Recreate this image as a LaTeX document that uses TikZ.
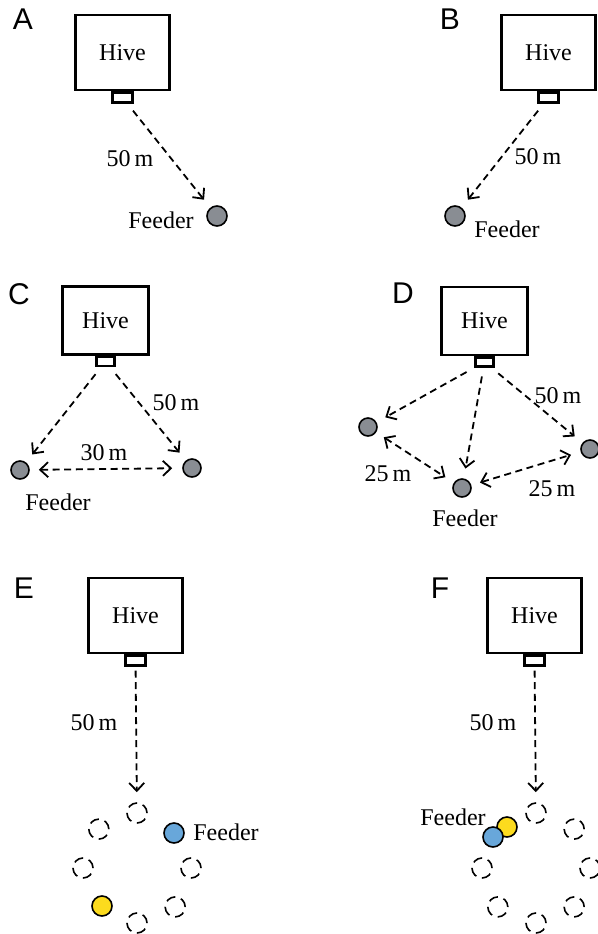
\documentclass[tikz,border=0pt]{standalone}
\usepackage{fontspec}
\setmainfont{Liberation Serif}
\newfontfamily\panelfont{Liberation Sans}
\usetikzlibrary{positioning}
\usetikzlibrary{arrows.meta}

\definecolor{feedgrey}{RGB}{137,141,147}
\definecolor{feedblue}{RGB}{104,167,218}
\definecolor{feedyellow}{RGB}{252,219,30}

\begin{document}
\begin{tikzpicture}[x=0.5pt, y=-0.5pt,
    hive/.style={draw, line width=1.4pt, minimum width=47pt, minimum height=37.5pt,
    inner sep=0pt, font=\fontsize{12}{14}\selectfont},
    smallhive/.style={hive, minimum width=43pt, minimum height=34pt},
    door/.style={draw, line width=1.1pt, minimum width=10pt, minimum height=5pt, inner sep=0pt, anchor=north},
    smalldoor/.style={door, minimum width=9pt, minimum height=4.5pt},
    feeder/.style={circle, draw, line width=0.8pt, fill=feedgrey, minimum size=10pt, inner sep=0pt},
    smallfeeder/.style={feeder, minimum size=9pt},
    spot/.style={circle, draw, line width=0.8pt, dash pattern=on 4.8pt off 3pt,
    minimum size=10pt, inner sep=0pt},
    trip/.style={line width=0.9pt, dash pattern=on 3.5pt off 2.3pt,
    -{Straight Barb[length=4pt,width=7.5pt]}, shorten <=4.5pt, shorten >=5pt},
    twoway/.style={trip, {Straight Barb[length=4pt,width=7.5pt]}-{Straight Barb[length=4pt,width=7.5pt]}},
    lbl/.style={inner sep=0pt, font=\fontsize{12}{14}\selectfont},
    panel/.style={inner sep=0pt, font=\panelfont\fontsize{15}{18}\selectfont},
    ]
    \useasboundingbox (0,0) rectangle (598,934);

    % A
    \node[panel] (pA) at (23,19) {A};
    \node[hive] (hA) at (122.5,52.5) {Hive};
    \node[door] (dA) at (hA.south) {};
    \node[feeder] (fA) at (217,216) {};
    \draw[trip] (dA) -- (fA);
    \node[lbl] (mA) at (130,159) {50\,m};
    \node[lbl] (tA) at (161,220) {Feeder};

    % B
    \node[panel] (pB) at (450,19) {B};
    \node[hive] (hB) at (548.5,52.5) {Hive};
    \node[door] (dB) at (hB.south) {};
    \node[feeder] (fB) at (455,216) {};
    \draw[trip] (dB) -- (fB);
    \node[lbl] (mB) at (538,157) {50\,m};
    \node[lbl] (tB) at (507,229) {Feeder};

    % C
    \node[panel] (pC) at (19,294) {C};
    \node[smallhive] (hC) at (105.5,320.5) {Hive};
    \node[smalldoor] (dC) at (hC.south) {};
    \node[smallfeeder] (fC1) at (20,470) {};
    \node[smallfeeder] (fC2) at (192,468) {};
    \draw[trip] (dC) -- (fC1);
    \draw[trip] (dC) -- (fC2);
    \draw[twoway] (fC1) -- (fC2);
    \node[lbl] (mC1) at (176,403) {50\,m};
    \node[lbl] (mC2) at (104,453) {30\,m};
    \node[lbl] (tC) at (58,502) {Feeder};

    % D
    \node[panel] (pD) at (403,293) {D};
    \node[smallhive] (hD) at (484.5,321) {Hive};
    \node[smalldoor] (dD) at (hD.south) {};
    \node[smallfeeder] (fD1) at (368,427) {};
    \node[smallfeeder] (fD2) at (462,488) {};
    \node[smallfeeder] (fD3) at (590,449) {};
    \draw[trip] (dD) -- (fD1);
    \draw[trip] (dD) -- (fD2);
    \draw[trip] (dD) -- (fD3);
    \draw[twoway] (fD1) -- (fD2);
    \draw[twoway] (fD2) -- (fD3);
    \node[lbl] (mD1) at (558,396) {50\,m};
    \node[lbl] (mD2) at (388,474) {25\,m};
    \node[lbl] (mD3) at (552,489) {25\,m};
    \node[lbl] (tD) at (465,518) {Feeder};

    % E
    \node[panel] (pE) at (24,588) {E};
    \node[hive] (hE) at (135.5,615.5) {Hive};
    \node[door] (dE) at (hE.south) {};
    \foreach \a in {0,90,135,180,270,315}
        \node[spot] (sE\a) at ({137+54*cos(\a)},{868-55*sin(\a)}) {};
    \node[feeder, fill=feedblue] (fEb) at (174,833) {};
    \node[feeder, fill=feedyellow] (fEy) at (102,906) {};
    \draw[trip, shorten <=2pt] (dE) -- (sE90);
    \node[lbl] (mE) at (94,723) {50\,m};
    \node[lbl] (tE) at (226,832) {Feeder};

    % F
    \node[panel] (pF) at (440,588) {F};
    \node[hive] (hF) at (534.5,615.5) {Hive};
    \node[door] (dF) at (hF.south) {};
    \foreach \a in {0,45,90,180,225,270,315}
        \node[spot] (sF\a) at ({536+54*cos(\a)},{868-55*sin(\a)}) {};
    \node[feeder, fill=feedyellow] (fFy) at (507,827) {};
    \node[feeder, fill=feedblue] (fFb) at (493,837) {};
    \draw[trip, shorten <=2pt] (dF) -- (sF90);
    \node[lbl] (mF) at (493,723) {50\,m};
    \node[lbl] (tF) at (453,817) {Feeder};
\end{tikzpicture}
\end{document}
